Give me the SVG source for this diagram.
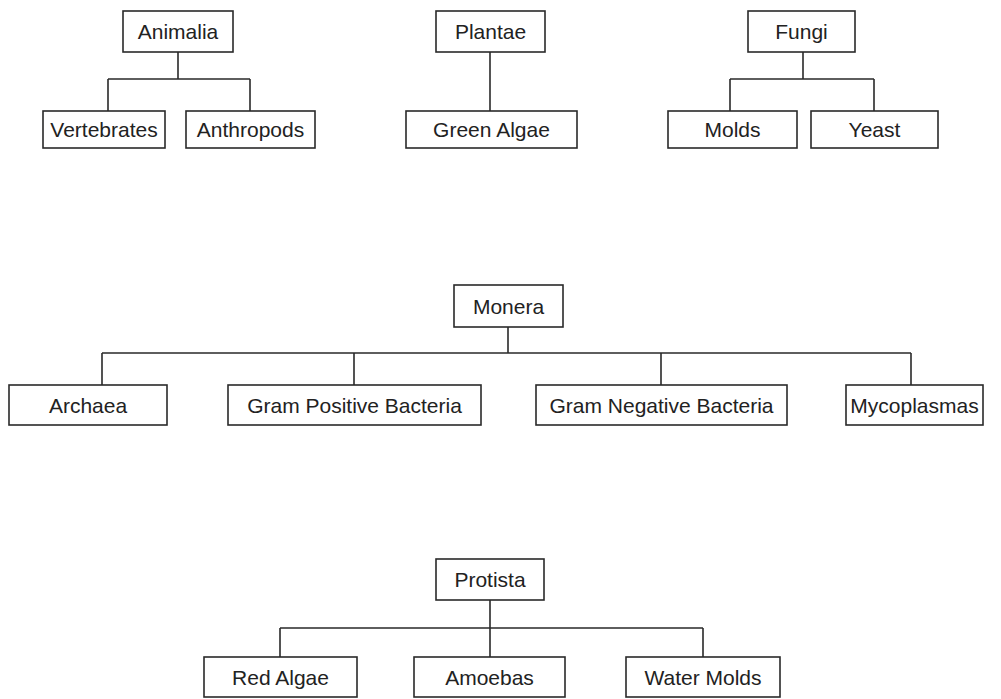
<svg xmlns="http://www.w3.org/2000/svg" width="1001" height="699" viewBox="0 0 1001 699">
<style>
.box{fill:#fff;stroke:#2a2a2a;stroke-width:1.6}
.lbl{font-family:"Liberation Sans",Arial,Helvetica,sans-serif;font-size:21px;fill:#222;text-anchor:middle}
.con{fill:none;stroke:#2a2a2a;stroke-width:1.6}
</style>
<rect width="1001" height="699" fill="#fff"/>
<g id="connectors">
<path class="con" d="M178 52V79M108 79H250M108 79V111M250 79V111"/>
<path class="con" d="M490 52V111"/>
<path class="con" d="M803 52V79M730 79H874M730 79V111M874 79V111"/>
<path class="con" d="M508 327V353M102 353H911M102 353V385M354 353V385M661 353V385M911 353V385"/>
<path class="con" d="M490 600V628M280 628H703M280 628V657M490 628V657M703 628V657"/>
</g>
<g id="animalia"><rect class="box" x="123" y="11" width="110" height="41"/><text class="lbl" x="178" y="39">Animalia</text></g>
<g id="vertebrates"><rect class="box" x="43" y="111" width="122" height="37"/><text class="lbl" x="104" y="137">Vertebrates</text></g>
<g id="anthropods"><rect class="box" x="186" y="111" width="129" height="37"/><text class="lbl" x="250.5" y="137">Anthropods</text></g>
<g id="plantae"><rect class="box" x="436" y="11" width="109" height="41"/><text class="lbl" x="490.5" y="39">Plantae</text></g>
<g id="green-algae"><rect class="box" x="406" y="111" width="171" height="37"/><text class="lbl" x="491.5" y="137">Green Algae</text></g>
<g id="fungi"><rect class="box" x="748" y="11" width="107" height="41"/><text class="lbl" x="801.5" y="39">Fungi</text></g>
<g id="molds"><rect class="box" x="668" y="111" width="129" height="37"/><text class="lbl" x="732.5" y="137">Molds</text></g>
<g id="yeast"><rect class="box" x="811" y="111" width="127" height="37"/><text class="lbl" x="874.5" y="137">Yeast</text></g>
<g id="monera"><rect class="box" x="454" y="285" width="109" height="42"/><text class="lbl" x="508.5" y="313.5">Monera</text></g>
<g id="archaea"><rect class="box" x="9" y="385" width="158" height="40"/><text class="lbl" x="88" y="412.5">Archaea</text></g>
<g id="gram-positive"><rect class="box" x="228" y="385" width="253" height="40"/><text class="lbl" x="354.5" y="412.5">Gram Positive Bacteria</text></g>
<g id="gram-negative"><rect class="box" x="536" y="385" width="251" height="40"/><text class="lbl" x="661.5" y="412.5">Gram Negative Bacteria</text></g>
<g id="mycoplasmas"><rect class="box" x="846" y="385" width="137" height="40"/><text class="lbl" x="914.5" y="412.5">Mycoplasmas</text></g>
<g id="protista"><rect class="box" x="436" y="559" width="108" height="41"/><text class="lbl" x="490" y="587">Protista</text></g>
<g id="red-algae"><rect class="box" x="204" y="657" width="153" height="40"/><text class="lbl" x="280.5" y="684.5">Red Algae</text></g>
<g id="amoebas"><rect class="box" x="414" y="657" width="151" height="40"/><text class="lbl" x="489.5" y="684.5">Amoebas</text></g>
<g id="water-molds"><rect class="box" x="626" y="657" width="154" height="40"/><text class="lbl" x="703" y="684.5">Water Molds</text></g>
</svg>
